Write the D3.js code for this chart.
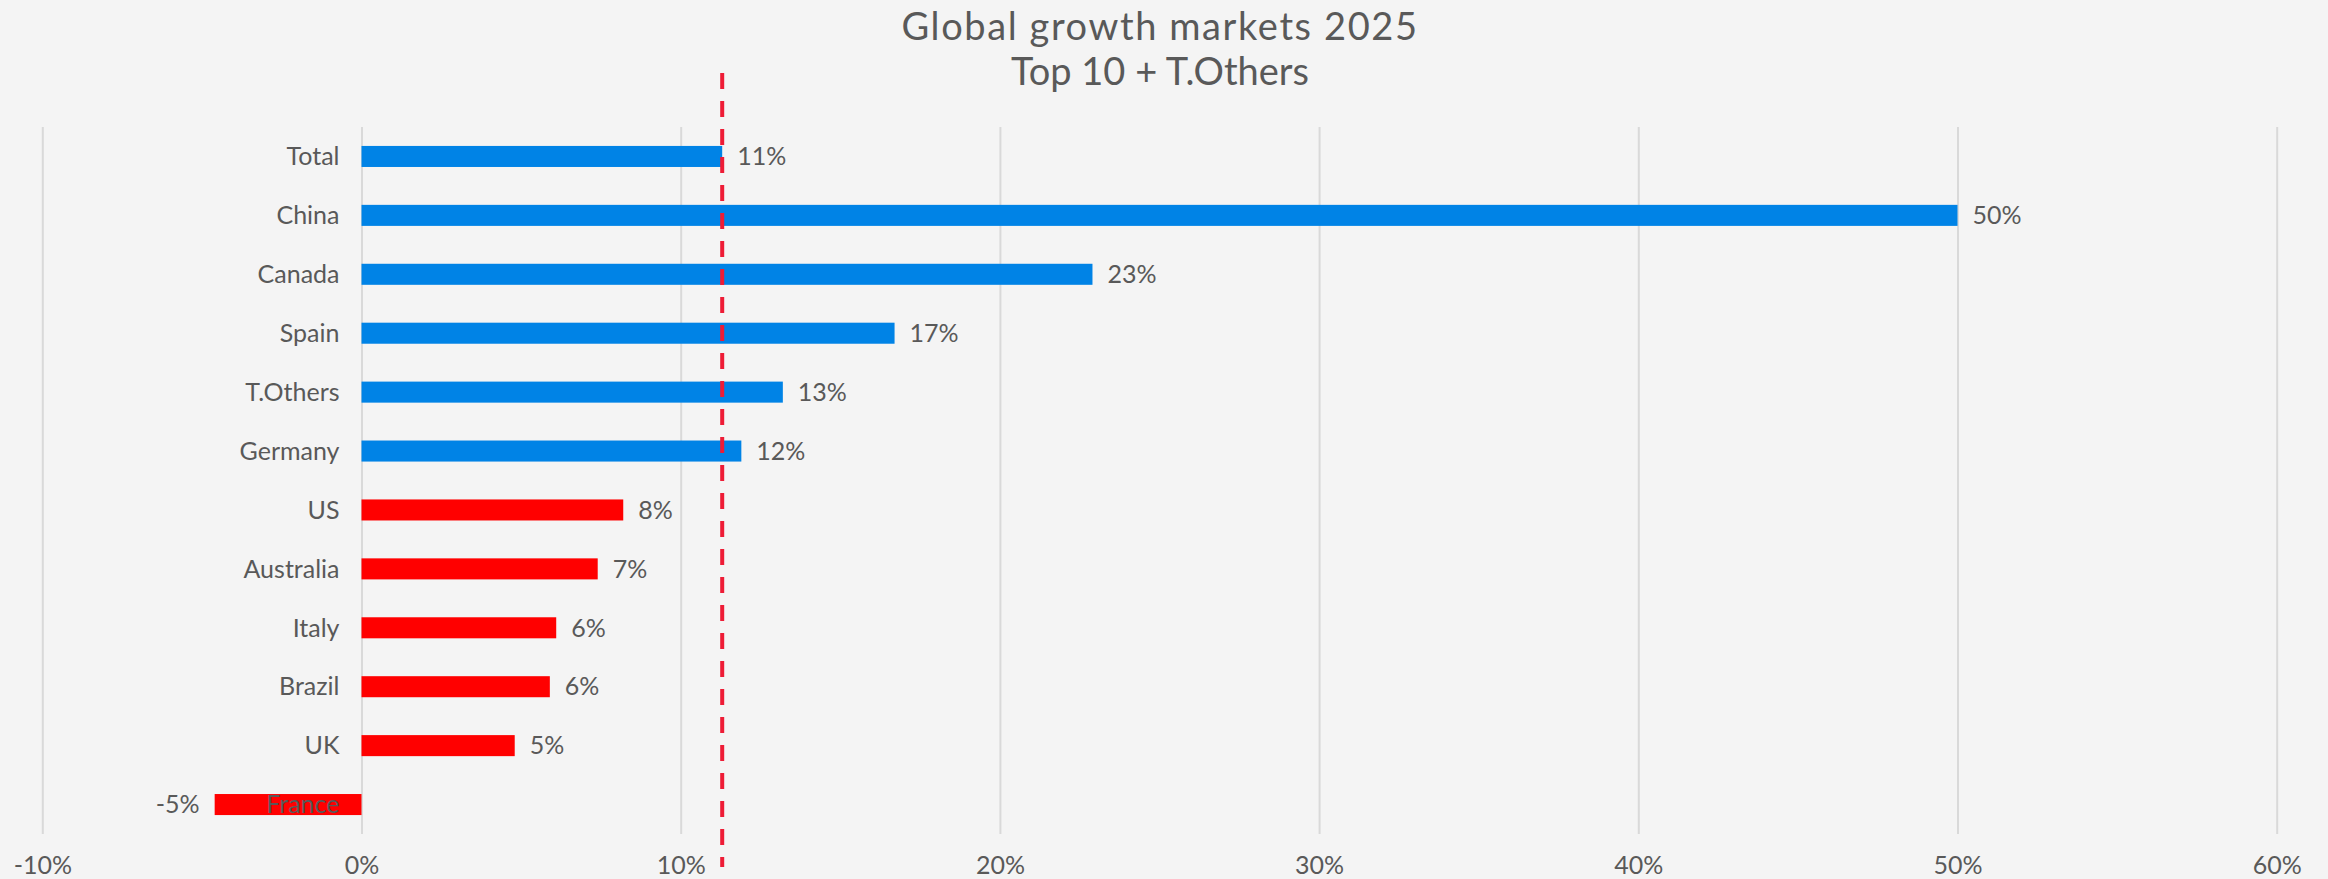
<!DOCTYPE html>
<html>
<head>
<meta charset="utf-8">
<script src="https://cdn.jsdelivr.net/npm/d3@7"></script>
<style>
  html, body { margin: 0; padding: 0; background: #f4f4f4; }
  text { font-family: Lato, "Open Sans", sans-serif; fill: #595959; }
</style>
</head>
<body>
<div id="chart"></div>
<script>
// Data (growth, in %)
var markets = ["Total", "China", "Canada", "Spain", "T.Others", "Germany",
  "US", "Australia", "Italy", "Brazil", "UK", "France"];
var growth = [11.3, 50.0, 22.9, 16.7, 13.2, 11.9, 8.2, 7.4, 6.1, 5.9, 4.8, -4.6];
var xTicks = [-10, 0, 10, 20, 30, 40, 50, 60];
var titleLines = ["Global growth markets 2025", "Top 10 + T.Others"];

var totalGrowth = growth[markets.indexOf("Total")];

var svgWidth = 2328;
var svgHeight = 879;

var blue = "#0083e6";
var red = "#ff0000";

var data = markets.map(function(m, i) {
  return { market: m, value: growth[i] };
});

var svg = d3.select("#chart")
  .append("svg")
  .attr("width", svgWidth)
  .attr("height", svgHeight);

svg.append("rect")
  .attr("width", svgWidth)
  .attr("height", svgHeight)
  .attr("fill", "#f4f4f4");

// scales
var xScale = d3.scaleLinear()
  .domain([-10, 60])
  .range([42.3, 2276.7]);

var yScale = d3.scaleBand()
  .domain(markets)
  .range([127, 834])
  .paddingInner(0.643)
  .paddingOuter(0.3215);

// gridlines + tick labels from a bottom axis
var xAxis = d3.axisBottom(xScale)
  .tickValues(xTicks)
  .tickSize(-(834 - 127))
  .tickFormat(d => d + "%");

var axisGroup = svg.append("g")
  .attr("transform", "translate(0, 834)")
  .call(xAxis);

axisGroup.select(".domain").remove();
axisGroup.selectAll(".tick line")
  .attr("stroke", "#d9d9d9")
  .attr("stroke-width", 2);
axisGroup.selectAll(".tick text")
  .attr("y", 40)
  .attr("dy", 0)
  .attr("fill", "#595959")
  .style("font-size", "25px")
  .style("font-family", "Lato, 'Open Sans', sans-serif");

// bars, blue when at or above the total growth
var barGroup = svg.append("g");

barGroup.selectAll("rect")
  .data(data)
  .enter()
  .append("rect")
  .attr("x", d => xScale(Math.min(0, d.value)))
  .attr("y", d => yScale(d.market))
  .attr("width", d => Math.abs(xScale(d.value) - xScale(0)))
  .attr("height", yScale.bandwidth())
  .attr("fill", d => d.value >= totalGrowth ? blue : red);

// market names, right aligned left of the zero line (France sits on its bar)
svg.append("g")
  .selectAll("text")
  .data(data)
  .enter()
  .append("text")
  .attr("x", xScale(0) - 22)
  .attr("y", d => yScale(d.market) + yScale.bandwidth() / 2)
  .attr("dy", "0.35em")
  .attr("text-anchor", "end")
  .style("font-size", "25px")
  .text(d => d.market);

// value labels
svg.append("g")
  .selectAll("text")
  .data(data)
  .enter()
  .append("text")
  .attr("x", d => d.value >= 0 ? xScale(d.value) + 15 : xScale(d.value) - 15)
  .attr("y", d => yScale(d.market) + yScale.bandwidth() / 2)
  .attr("dy", "0.35em")
  .attr("text-anchor", d => d.value >= 0 ? "start" : "end")
  .style("font-size", "25px")
  .text(d => Math.round(d.value) + "%");

// dashed line at the total growth
svg.append("line")
  .attr("x1", xScale(totalGrowth))
  .attr("x2", xScale(totalGrowth))
  .attr("y1", 73)
  .attr("y2", 867)
  .attr("stroke", "#ee1c36")
  .attr("stroke-width", 4)
  .attr("stroke-dasharray", "16,12");

// title, first line is a bit wider in the original font
svg.append("g")
  .selectAll("text")
  .data(titleLines)
  .enter()
  .append("text")
  .attr("x", 1160)
  .attr("y", (d, i) => 40 + i * 45)
  .attr("text-anchor", "middle")
  .style("font-size", "38px")
  .style("letter-spacing", (d, i) => i === 0 ? "1.6px" : "0px")
  .text(d => d);
</script>
</body>
</html>
